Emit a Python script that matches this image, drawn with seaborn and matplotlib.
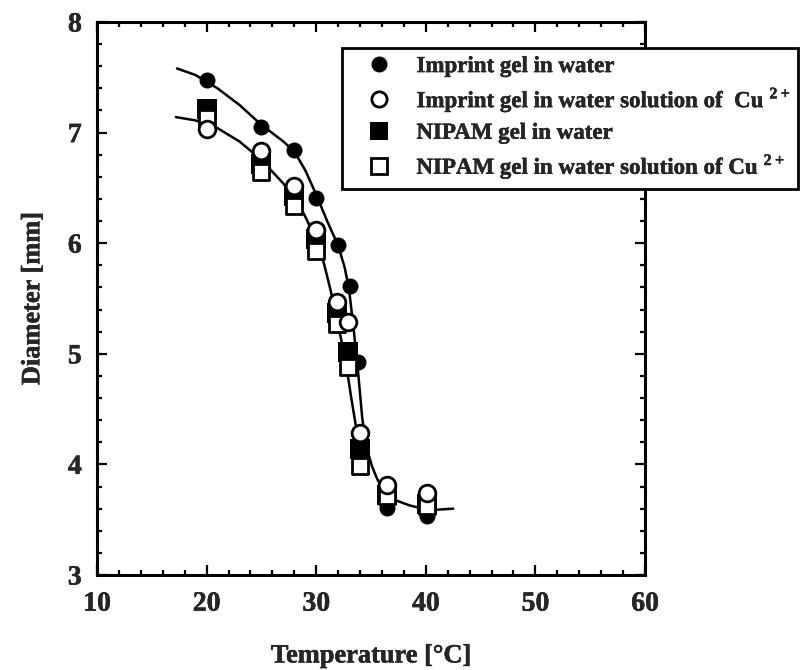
import matplotlib
matplotlib.use("Agg")
import matplotlib.pyplot as plt
import matplotlib.patheffects as pe
from matplotlib.lines import Line2D
from matplotlib.ticker import MultipleLocator
import pandas as pd
import seaborn as sns

# Swelling data: gel diameter vs temperature
temp_imprint_water = [20, 25, 28, 30, 32, 33.1, 33.8, 36.5, 40.1]
diam_imprint_water = [7.48, 7.05, 6.84, 6.41, 5.98, 5.61, 4.93, 3.61, 3.53]

temp_imprint_cu = [20, 25, 28, 30, 31.9, 32.9, 34.0, 36.5, 40.1]
diam_imprint_cu = [7.03, 6.83, 6.52, 6.12, 5.47, 5.29, 4.28, 3.81, 3.74]

temp_nipam_water = [20, 25, 28, 30, 31.9, 32.9, 34.0, 36.5, 40.1]
diam_nipam_water = [7.21, 6.72, 6.43, 6.04, 5.37, 5.02, 4.14, 3.72, 3.64]

temp_nipam_cu = [20, 25, 28, 30, 31.9, 32.9, 34.0, 36.5, 40.1]
diam_nipam_cu = [7.13, 6.64, 6.34, 5.93, 5.27, 4.88, 3.99, 3.71, 3.62]

# Guide curves through the two groups of data
fit_upper_t = [17.3, 19, 21, 23, 25, 27, 28, 29, 30, 31, 32, 32.6, 33.0, 33.4,
               33.8, 34.2, 34.6, 35.1, 35.6, 36.3, 37.4, 38.5, 39.3, 41.0, 42.5]
fit_upper_d = [7.58, 7.52, 7.40, 7.25, 7.07, 6.92, 6.83, 6.66, 6.44, 6.20, 5.98,
               5.78, 5.58, 5.24, 4.86, 4.42, 4.15, 3.98, 3.86, 3.75, 3.67, 3.63,
               3.61, 3.59, 3.60]
fit_lower_t = [17.2, 19, 21, 23, 24.2, 25.5, 27, 28.3, 29.2, 30, 30.7, 31.3,
               31.8, 32.3, 32.8, 33.2, 33.6, 34.0, 34.4]
fit_lower_d = [7.14, 7.11, 7.04, 6.92, 6.82, 6.70, 6.54, 6.38, 6.20, 6.02, 5.82,
               5.58, 5.36, 5.12, 4.86, 4.60, 4.36, 4.18, 4.06]

labels = ["Imprint gel in water",
          "Imprint gel in water solution of  Cu $^{\\mathbf{2+}}$",
          "NIPAM gel in water",
          "NIPAM gel in water solution of Cu $^{\\mathbf{2+}}$"]

sns.set_theme(style="ticks")
plt.rcParams["font.family"] = ["Liberation Serif", "DejaVu Serif"]
plt.rcParams["font.weight"] = "bold"
plt.rcParams["mathtext.fontset"] = "custom"
plt.rcParams["mathtext.rm"] = "Liberation Serif:bold"
plt.rcParams["mathtext.bf"] = "Liberation Serif:bold"

heavy = [pe.withStroke(linewidth=0.3, foreground="black")]

fig = plt.figure(figsize=(8.06, 6.70), dpi=100)
ax = fig.add_axes([97 / 806, 1 - 575 / 670, (645 - 97) / 806, (575 - 22) / 670])

# guide curves
sns.lineplot(x=fit_upper_t, y=fit_upper_d, ax=ax, color="black", lw=1.8,
             estimator=None, sort=False, zorder=1)
sns.lineplot(x=fit_lower_t, y=fit_lower_d, ax=ax, color="black", lw=1.8,
             estimator=None, sort=False, zorder=1)

series = [
    (temp_imprint_water, diam_imprint_water, "o", "black", 0.0, 11.5),
    (temp_nipam_water, diam_nipam_water, "s", "black", 0.0, 14.0),
    (temp_nipam_cu, diam_nipam_cu, "s", "white", 2.0, 12.0),
    (temp_imprint_cu, diam_imprint_cu, "o", "white", 2.0, 12.0),
]
for z, (tx, dy, mk, fc, ew, ms) in enumerate(series):
    df = pd.DataFrame({"T": tx, "D": dy})
    sns.scatterplot(data=df, x="T", y="D", ax=ax, marker=mk, s=ms ** 2,
                    color=fc, edgecolor="black", linewidth=ew, zorder=3 + z)

ax.set_xlim(10, 60)
ax.set_ylim(3, 8)
ax.xaxis.set_major_locator(MultipleLocator(10))
ax.xaxis.set_minor_locator(MultipleLocator(2))
ax.yaxis.set_major_locator(MultipleLocator(1))
ax.yaxis.set_minor_locator(MultipleLocator(0.2))
ax.tick_params(which="both", direction="in", top=True, right=True, width=1.6,
               color="black")
ax.tick_params(which="major", length=7)
ax.tick_params(which="minor", length=3.6)
ax.tick_params(axis="x", which="major", pad=12, labelsize=20)
ax.tick_params(axis="y", which="major", pad=11, labelsize=20)
for lab in ax.get_xticklabels() + ax.get_yticklabels():
    lab.set_fontweight("bold")
    lab.set_path_effects(heavy)
for sp in ax.spines.values():
    sp.set_linewidth(2.2)
    sp.set_color("black")

ax.set_xlabel("Temperature [°C]", fontsize=19, fontweight="bold", labelpad=20,
              path_effects=heavy)
ax.set_ylabel("Diameter [mm]", fontsize=19, fontweight="bold", labelpad=17,
              path_effects=heavy)

handles = [
    Line2D([], [], ls="none", marker="o", ms=11.5, mfc="black", mec="black", mew=0),
    Line2D([], [], ls="none", marker="o", ms=11, mfc="white", mec="black", mew=2),
    Line2D([], [], ls="none", marker="s", ms=13.5, mfc="black", mec="black", mew=0),
    Line2D([], [], ls="none", marker="s", ms=11.5, mfc="white", mec="black", mew=2),
]
leg = ax.legend(handles, labels, loc="upper left",
                bbox_to_anchor=(342 / 806, 1 - 48 / 670),
                bbox_transform=fig.transFigure, frameon=True, fancybox=False,
                framealpha=1, edgecolor="black",
                prop={"weight": "bold", "size": 16.5},
                handletextpad=0.4, labelspacing=0.35, borderpad=0.35,
                handlelength=2.5, borderaxespad=0)
leg.get_frame().set_linewidth(2)
leg.set_zorder(10)
for t in leg.get_texts():
    t.set_path_effects(heavy)

fig.savefig("out.png", dpi=100)
